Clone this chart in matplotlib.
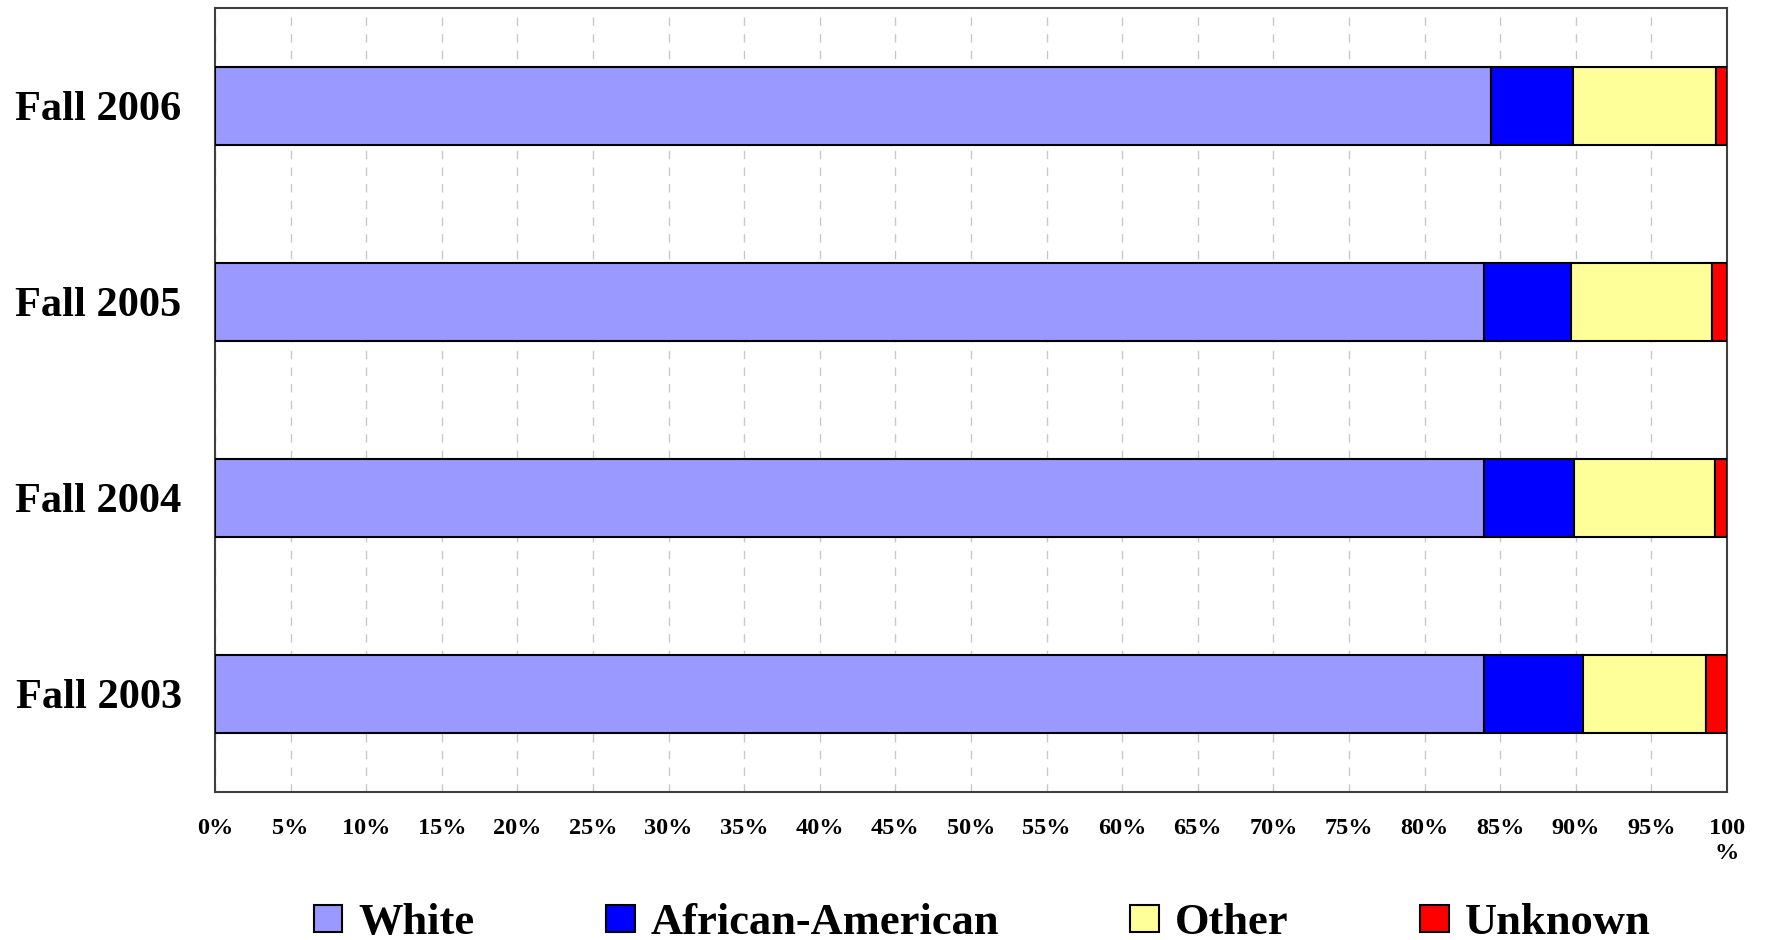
import matplotlib
matplotlib.use("Agg")
import matplotlib.pyplot as plt
from matplotlib.patches import Patch
import numpy as np

categories = ["Fall 2003", "Fall 2004", "Fall 2005", "Fall 2006"]
series_names = ["White", "African-American", "Other", "Unknown"]
white = [83.9, 83.9, 83.9, 84.4]
african_american = [6.6, 6.0, 5.8, 5.4]
other = [8.1, 9.3, 9.3, 9.5]
unknown = [1.4, 0.8, 1.0, 0.7]
tick_values = list(range(0, 101, 5))
tick_labels = [f"{v}%" for v in tick_values[:-1]] + ["100\n%"]

colors = ["#9999FF", "#0000FF", "#FFFF99", "#FF0000"]

plt.rcParams["font.family"] = ["Liberation Serif", "DejaVu Serif"]
plt.rcParams["font.weight"] = "bold"

fig = plt.figure(figsize=(17.69, 9.40), dpi=100)
W, H = 1769, 940
ax = fig.add_axes([215 / W, 1 - 792 / H, (1727 - 215) / W, (792 - 8) / H])

y = np.arange(len(categories))
left = np.zeros(len(categories))
for name, vals, c in zip(series_names, [white, african_american, other, unknown], colors):
    ax.barh(y, vals, left=left, height=0.40, color=c, edgecolor="black",
            linewidth=1.5, label=name, zorder=3)
    left += np.array(vals)

ax.set_xlim(0, 100)
ax.set_ylim(-0.5, len(categories) - 0.5)
ax.set_yticks(y)
ax.set_yticklabels(categories, fontsize=30.5, fontweight="bold")
ax.set_xticks(tick_values)
ax.set_xticklabels(tick_labels, fontsize=17.5, fontweight="bold", linespacing=1.2)
ax.tick_params(axis="x", length=0, pad=19)
ax.tick_params(axis="y", length=0, pad=24)
for lbl in ax.get_xticklabels():
    lbl.set_verticalalignment("top")

ax.grid(axis="x", color="#C8C8C8", linestyle=(0, (6, 6)), linewidth=1.0, zorder=0)
for s in ax.spines.values():
    s.set_color("#404040")
    s.set_linewidth(1.5)

handles = [Patch(facecolor=c, edgecolor="black", linewidth=1.5) for c in colors]
fig.legend(handles, series_names, loc="center", bbox_to_anchor=(982 / W, 1 - 923 / H),
           ncol=4, frameon=False, prop={"family": "Liberation Serif", "weight": "bold", "size": 32},
           handlelength=0.65, handleheight=0.56, handletextpad=0.36, columnspacing=2.95,
           borderpad=0, borderaxespad=0)

fig.savefig("out.png", dpi=100)
